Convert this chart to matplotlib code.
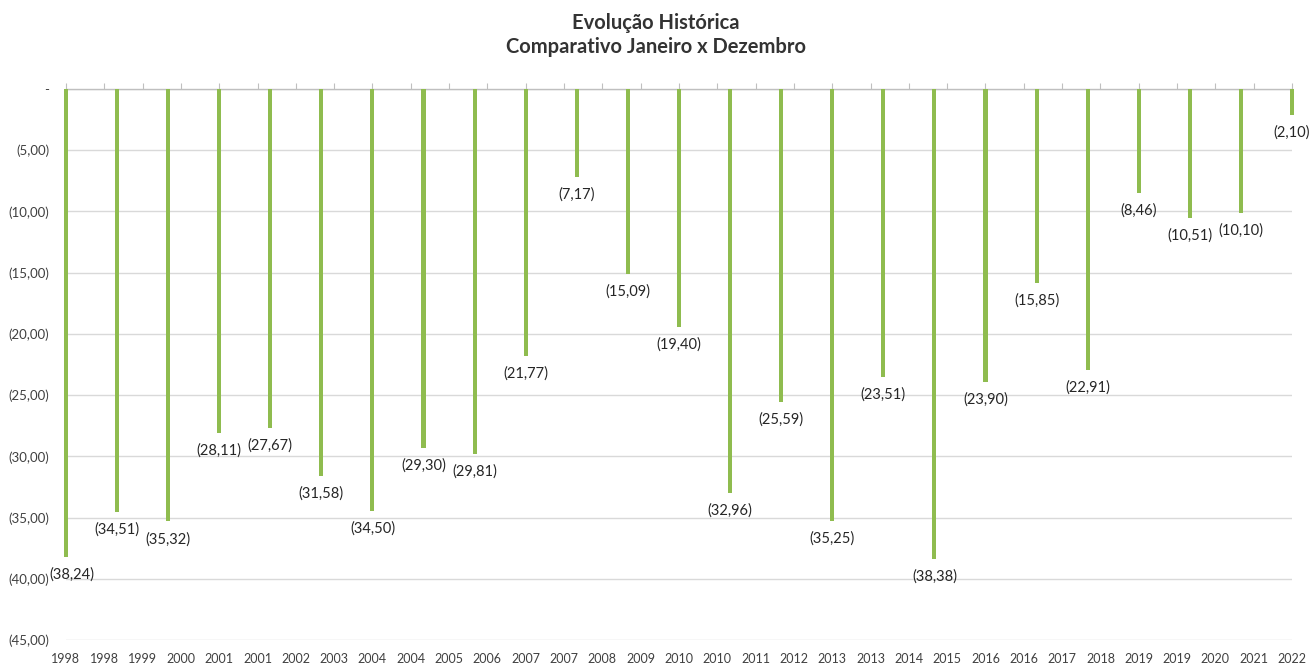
import matplotlib
matplotlib.use("Agg")
import matplotlib.pyplot as plt
import numpy as np

# data
years = [1998, 1999, 2000, 2001, 2002, 2003, 2004, 2005, 2006, 2007, 2008, 2009,
         2010, 2011, 2012, 2013, 2014, 2015, 2016, 2017, 2018, 2019, 2020, 2021, 2022]
values = [-38.24, -34.51, -35.32, -28.11, -27.67, -31.58, -34.50, -29.30, -29.81,
          -21.77, -7.17, -15.09, -19.40, -32.96, -25.59, -35.25, -23.51, -38.38,
          -23.90, -15.85, -22.91, -8.46, -10.51, -10.10, -2.10]

# excel date axis: ticks every ~9 months, labelled with the year only
tick_labels = ["1998", "1998", "1999", "2000", "2001", "2001", "2002", "2003", "2004",
               "2004", "2005", "2006", "2007", "2007", "2008", "2009", "2010", "2010",
               "2011", "2012", "2013", "2013", "2014", "2015", "2016", "2016", "2017",
               "2018", "2019", "2019", "2020", "2021", "2022"]

y_ticks = [0, -5, -10, -15, -20, -25, -30, -35, -40, -45]

plt.rcParams["font.family"] = ["Lato", "DejaVu Sans"]

fig = plt.figure(figsize=(13.11, 6.64), dpi=100)
ax = fig.add_axes([0.0503, 0.0361, 0.9352, 0.8299])

green = "#8fbc4f"
ax.bar(years, values, width=0.08, color=green, clip_on=False, zorder=3)


def fmt(v):
    if v == 0:
        return "-"
    return "(" + f"{abs(v):.2f}".replace(".", ",") + ")"


for i, (x, v) in enumerate(zip(years, values)):
    dx = 4 if i == 0 else 0  # first label nudged off the y tick label
    ax.annotate(fmt(v), (x, v), xytext=(dx, -7.5), textcoords="offset points",
                ha="center", va="top", fontsize=10.5, color="#262626", zorder=4)

ax.set_xlim(years[0], years[-1])
ax.set_ylim(-45, 0)

tick_pos = np.linspace(years[0], years[-1], len(tick_labels))
ax.set_xticks(tick_pos)
ax.set_xticklabels(tick_labels, fontsize=9, color="#404040")
ax.tick_params(axis="x", top=True, bottom=False, labeltop=False, labelbottom=True,
               direction="out", length=4, color="#bfbfbf", pad=5)

ax.set_yticks(y_ticks)
ax.set_yticklabels([fmt(t) for t in y_ticks], fontsize=9.5, color="#404040")
ax.tick_params(axis="y", length=0, pad=12)

ax.grid(axis="y", color="#d9d9d9", linewidth=1, zorder=0)
for s in ["left", "right", "bottom"]:
    ax.spines[s].set_visible(False)
ax.spines["top"].set_color("#bfbfbf")
ax.spines["top"].set_linewidth(1)

fig.text(0.5, 0.98, "Evolução Histórica\nComparativo Janeiro x Dezembro",
         ha="center", va="top", fontsize=14.5, fontweight="bold", color="#333333",
         linespacing=1.25)

fig.savefig("out.png", dpi=100)
